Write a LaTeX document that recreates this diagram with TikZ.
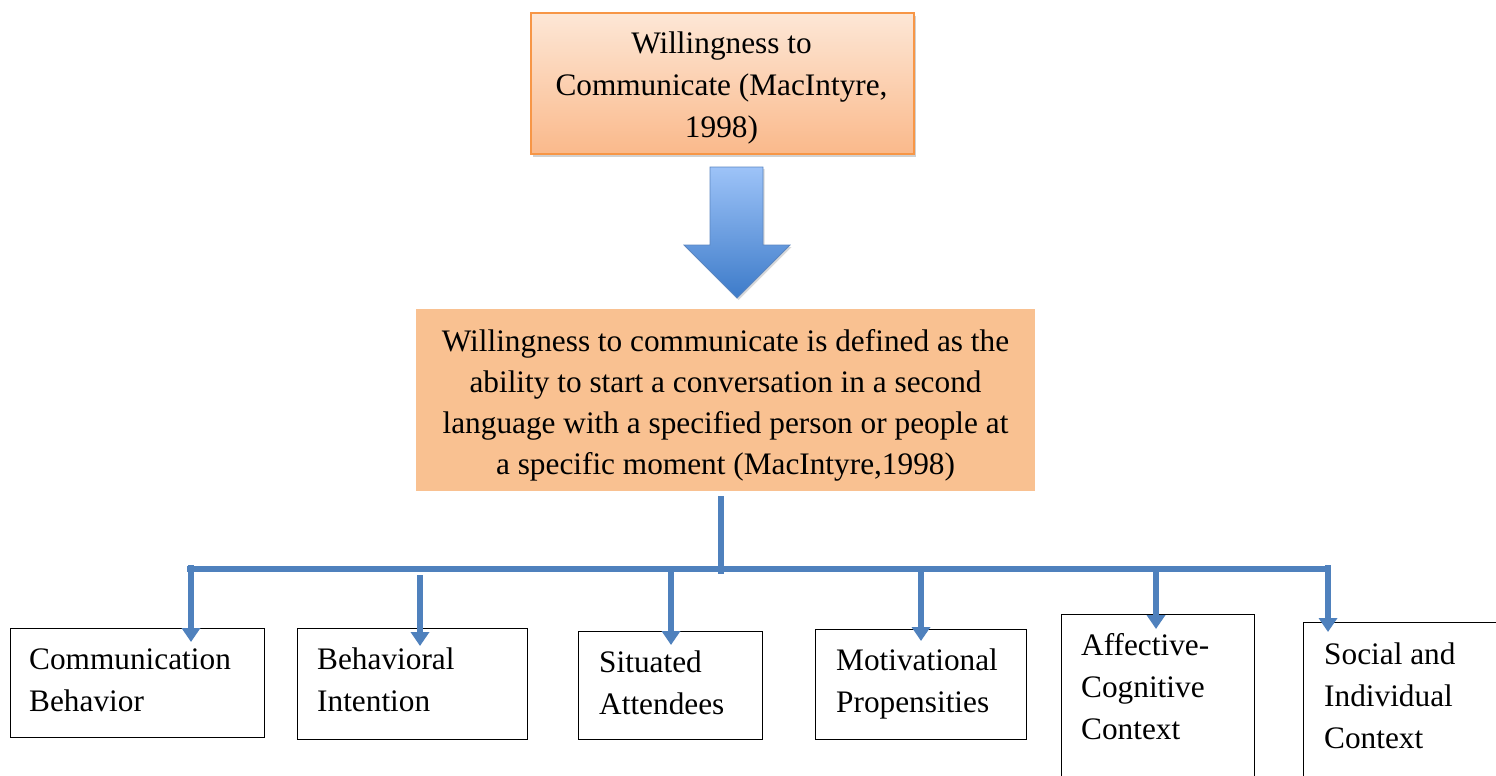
\documentclass[tikz,border=0pt]{standalone}
\usepackage{fontspec}
\setmainfont{Liberation Serif}
\usetikzlibrary{arrows.meta,shadows}
\definecolor{lineblue}{HTML}{4F81BD}
\definecolor{orangeedge}{HTML}{F79646}
\definecolor{peachtop}{HTML}{FDE7D6}
\definecolor{peachbot}{HTML}{FAB98B}
\definecolor{midfill}{HTML}{F9C191}
\definecolor{arrtop}{HTML}{9DC3F8}
\definecolor{arrbot}{HTML}{3D7BC9}
\definecolor{arredge}{HTML}{5B86C0}
\tikzset{
  txt/.style={font=\fontsize{31.3}{42}\selectfont, inner sep=0pt},
  topbox/.style={draw=orangeedge, line width=1.6pt, top color=peachtop, bottom color=peachbot,
    drop shadow={shadow xshift=2pt, shadow yshift=-3pt, opacity=0.3, fill=black!60},
    anchor=north west, inner sep=0pt},
  midbox/.style={fill=midfill, anchor=north west, inner sep=0pt},
  leafbox/.style={draw=black, line width=1.3pt, fill=white, anchor=north west, inner sep=0pt},
  conn/.style={draw=lineblue, line width=6pt},
  arr/.style={draw=lineblue, line width=6pt, -{Triangle[width=18pt,length=14pt]}, fill=lineblue},
}
\begin{document}
\begin{tikzpicture}[x=1pt,y=-1pt]
\useasboundingbox (0,0) rectangle (1496,776);
\clip (0,0) rectangle (1496,776);

% top box
\node[topbox, minimum width=383pt, minimum height=141pt] (top) at (530,12) {};
\node[txt, align=center, anchor=north] (toptxt) at (721.5,31.6)
  {Willingness to\\Communicate (MacIntyre,\\1998)};

% block arrow
\path[draw=arredge, line width=0.8pt, top color=arrtop, bottom color=arrbot,
  drop shadow={shadow xshift=1.5pt, shadow yshift=-2pt, opacity=0.25, fill=black!60}]
  (710,167) -- (763,167) -- (763,245) -- (790,245) -- (737,298) -- (684,245) -- (710,245) -- cycle;

% middle box
\node[midbox, minimum width=619pt, minimum height=182pt] (mid) at (416,309) {};
\node[txt, align=center, anchor=north, font=\fontsize{31.3}{41}\selectfont] (midtxt) at (725.5,329.6)
  {Willingness to communicate is defined as the\\
   ability to start a conversation in a second\\
   language with a specified person or people at\\
   a specific moment (MacIntyre,1998)};

% leaf boxes
\node[leafbox, minimum width=254pt, minimum height=109pt] (b1) at (10,628) {};
\node[leafbox, minimum width=230pt, minimum height=111pt] (b2) at (297,628) {};
\node[leafbox, minimum width=184pt, minimum height=108pt] (b3) at (578,631) {};
\node[leafbox, minimum width=211pt, minimum height=110pt] (b4) at (815,629) {};
\node[leafbox, minimum width=193pt, minimum height=176pt] (b5) at (1061,614) {};
\node[leafbox, minimum width=240pt, minimum height=176pt] (b6) at (1303,622) {};

\node[txt, align=left, anchor=north west] (t1) at (29,648.6) {Communication\\Behavior};
\node[txt, align=left, anchor=north west] (t2) at (317,647.6) {Behavioral\\Intention};
\node[txt, align=left, anchor=north west] (t3) at (599,650.6) {Situated\\Attendees};
\node[txt, align=left, anchor=north west] (t4) at (836,648.6) {Motivational\\Propensities};
\node[txt, align=left, anchor=north west] (t5) at (1081,633.6) {Affective-\\Cognitive\\Context};
\node[txt, align=left, anchor=north west] (t6) at (1324,642.6) {Social and\\Individual\\Context};

% connectors
\coordinate (hj) at (721,574);
\coordinate (hl) at (187,569);
\coordinate (hr) at (1331,569);
\draw[conn] (721,496) coordinate (ms) -- (hj);
\draw[conn] (hl) -- (hr);

\coordinate (e1) at (191,642);
\coordinate (e2) at (420,646);
\coordinate (e3) at (671,645);
\coordinate (e4) at (921,641);
\coordinate (e5) at (1156,629);
\coordinate (e6) at (1328,632);

\draw[arr] (191,565) -- (e1);
\draw[arr] (420,575) -- (e2);
\draw[arr] (671,569) -- (e3);
\draw[arr] (921,569) -- (e4);
\draw[arr] (1156,569) -- (e5);
\draw[arr] (1328,565) -- (e6);
\end{tikzpicture}
\end{document}
